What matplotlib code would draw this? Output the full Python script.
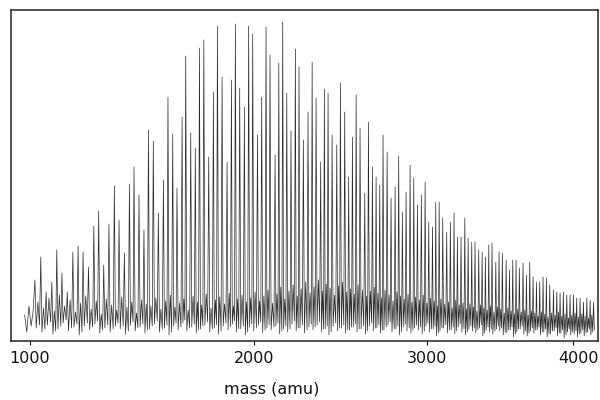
import numpy as np
import matplotlib
matplotlib.use("Agg")
import matplotlib.pyplot as plt
import matplotlib.transforms as mtransforms

# ---- data ----
peak_mass = [
    1020, 1042, 1062, 1084, 1103, 1123, 1144, 1166, 1187, 1207,
    1229, 1251, 1271, 1292, 1314, 1337, 1357, 1380, 1402, 1422,
    1444, 1466, 1486, 1508, 1531, 1554, 1575, 1597, 1617, 1641,
    1658, 1682, 1704, 1724, 1745, 1769, 1792, 1812, 1835, 1860,
    1882, 1902, 1924, 1948, 1970, 1991, 2016, 2038, 2061, 2082,
    2109, 2129, 2150, 2172, 2195, 2219, 2239, 2263, 2289, 2312,
    2334, 2360, 2381, 2402, 2425, 2452, 2473, 2498, 2521, 2543,
    2565, 2588, 2616, 2638, 2662, 2684, 2706, 2726, 2751, 2775,
    2800, 2822, 2845, 2868, 2893, 2916, 2939, 2964, 2988, 3011,
    3035, 3056, 3078, 3101, 3127, 3151, 3175, 3197, 3221, 3246,
    3268, 3292, 3314, 3339, 3362, 3384, 3407, 3429, 3455, 3477,
    3500, 3526, 3549, 3572, 3595, 3618, 3644, 3668, 3691, 3715,
    3739, 3762, 3786, 3810, 3834, 3861, 3885, 3909, 3933, 3958,
    3982, 4007, 4031, 4056, 4081, 4106, 4131, 4156,
]
peak_height = [
    40, 63, 28, 38, 70, 47, 28, 68, 74, 68,
    53, 94, 109, 55, 96, 134, 100, 67, 136, 153,
    125, 90, 190, 179, 107, 140, 223, 186, 132, 203,
    264, 187, 172, 272, 280, 163, 228, 294, 243, 158,
    240, 296, 232, 213, 294, 286, 185, 223, 293, 265,
    165, 257, 298, 227, 189, 271, 253, 180, 208, 258,
    222, 158, 231, 227, 185, 175, 237, 208, 143, 183,
    225, 192, 127, 198, 153, 143, 135, 185, 168, 122,
    133, 164, 108, 128, 155, 142, 115, 125, 138, 98,
    93, 118, 118, 102, 88, 98, 107, 83, 83, 102,
    82, 78, 78, 70, 68, 63, 75, 77, 58, 68,
    67, 60, 50, 60, 60, 52, 57, 45, 58, 43,
    38, 38, 43, 42, 35, 30, 28, 27, 28, 25,
    25, 25, 22, 22, 18, 22, 20, 18,
]
# small secondary bumps between the main peaks
minor_height = [
    18, 12, 22, 9, 25, 14, 20, 8, 17, 24,
    11, 19, 6, 21, 15, 10, 23, 13, 18, 7,
    20, 16, 14, 22, 11, 19, 25, 13, 17, 21,
    10, 24, 18, 15, 26, 12, 20, 23, 16, 27,
    14, 21, 25, 18, 22, 28, 19, 24, 30, 17,
    26, 33, 21, 29, 35, 24, 31, 38, 27, 33,
    40, 29, 36, 32, 25, 34, 38, 28, 31, 26,
    35, 30, 24, 29, 33, 27, 22, 30, 25, 19,
    28, 24, 21, 26, 18, 23, 20, 25, 17, 22,
    19, 14, 21, 16, 18, 12, 20, 15, 17, 11,
    16, 13, 9, 15, 12, 10, 14, 8, 13, 11,
    7, 12, 9, 6, 11, 8, 10, 5, 9, 7,
    4, 8, 6, 3, 7, 5, 8, 4, 6, 2,
    5, 7, 3, 6, 4, 2, 5,
]
# valley levels between peaks
trough_level = [
    -8, -12, -5, -14, -9, -3, -11, -7, -15, -6,
    -10, -4, -13, -8, -12, -6, -9, -14, -5, -11,
    -7, -13, -9, -4, -12, -8, -15, -6, -10, -3,
    -11, -7, -13, -9, -5, -12, -8, -14, -6, -10,
    -4, -12, -9, -15, -7, -11, -5, -13, -8, -10,
    -6, -14, -9, -12, -4, -11, -8, -13, -7, -10,
    -5, -12, -9, -15, -6, -11, -8, -13, -10, -7,
    -12, -9, -14, -6, -11, -8, -13, -10, -5, -12,
    -9, -15, -7, -11, -13, -8, -10, -14, -6, -12,
    -9, -16, -11, -8, -13, -10, -14, -7, -12, -15,
    -9, -11, -13, -8, -16, -10, -12, -14, -9, -11,
    -15, -13, -10, -17, -12, -9, -14, -16, -11, -13,
    -10, -15, -12, -17, -14, -11, -16, -13, -18, -12,
    -15, -14, -17, -13, -16, -12, -15,
]
lead_mass = [982, 990, 998, 1006, 1013]
lead_int = [5, -12, 14, -6, 8]
tail_mass = [4163]
tail_int = [-10]

tick_values = [1000, 2000, 3000, 4000]
tick_labels = ["1000", "2000", "3000", "4000"]
x_label = "mass (amu)"

# ---- build trace ----
n = min(len(peak_mass), len(peak_height))
xs = list(lead_mass)
ys = list(lead_int)
for i in range(n):
    xs.append(peak_mass[i]); ys.append(peak_height[i])
    if i < n - 1:
        d = peak_mass[i + 1] - peak_mass[i]
        j = min(i, len(trough_level) - 1)
        k = min(i, len(minor_height) - 1)
        xs += [peak_mass[i] + 0.22 * d, peak_mass[i] + 0.5 * d, peak_mass[i] + 0.78 * d]
        ys += [trough_level[j], minor_height[k], trough_level[j] + 3]
xs += tail_mass
ys += tail_int

fig = plt.figure(figsize=(6, 4), dpi=100)
ax = fig.add_axes([11 / 600, 1 - 341 / 400, 587 / 600, 331 / 400])
ax.set_xscale("function", functions=(lambda m: np.sqrt(np.clip(m, 0, None)), lambda s: s ** 2))
ax.plot(xs, ys, color="#2a2a2a", lw=0.5)
ax.set_xlim(933, 4190)
ax.set_ylim(-21, 310)
ax.set_yticks([])
ax.set_xticks(tick_values)
ax.set_xticklabels(tick_labels, fontsize=11.5, color="#111111")
ax.tick_params(axis="x", direction="out", length=3, width=0.8, pad=4)
ax.minorticks_off()
# the last label sits slightly right of its tick in the reference
lab = ax.get_xticklabels()[-1]
lab.set_transform(lab.get_transform() + mtransforms.ScaledTranslation(6 / 100, 0, fig.dpi_scale_trans))
for s in ax.spines.values():
    s.set_linewidth(1.1)
    s.set_color("#222222")
fig.text(272 / 600, 1 - 389 / 400, x_label, fontsize=11.5, color="#111111",
         ha="center", va="center")
fig.savefig("out.png", dpi=100)
